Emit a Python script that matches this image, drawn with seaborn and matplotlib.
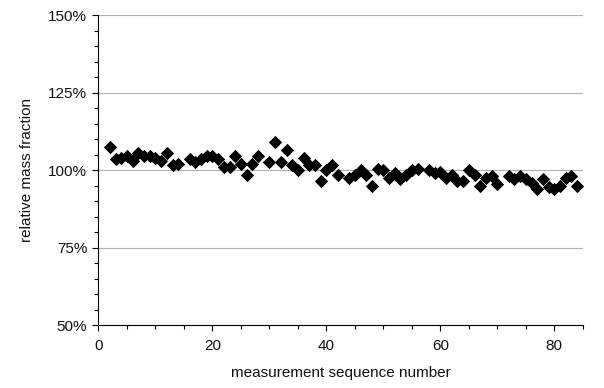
import matplotlib
matplotlib.use("Agg")
import matplotlib.pyplot as plt
import seaborn as sns
import pandas as pd
from matplotlib.ticker import MultipleLocator, FuncFormatter

seq = [2, 3, 4, 5, 6, 7, 8, 9, 10, 11, 12, 13, 14, 16, 17, 18, 19, 20, 21, 22,
       23, 24, 25, 26, 27, 28, 30, 31, 32, 33, 34, 35, 36, 37, 38, 39, 40, 41, 42,
       44, 45, 46, 47, 48, 49, 50, 51, 52, 53, 54, 55, 56, 58, 59, 60, 61, 62, 63,
       64, 65, 66, 67, 68, 69, 70, 72, 73, 74, 75, 76, 77, 78, 79, 80, 81, 82, 83, 84]
frac = [107.5, 103.5, 104, 104.5, 103, 105.5, 104.5, 104.5, 104, 103, 105.5, 101.5, 102,
        103.5, 102.5, 103.5, 104.5, 104.5, 103.5, 101, 101, 104.5, 102, 98.5, 102, 104.5,
        102.5, 109, 102.5, 106.5, 101.5, 100, 104, 101.5, 101.5, 96.5, 100, 101.5, 98.5,
        97.5, 98.5, 100, 98.5, 95, 100.5, 100, 97.5, 99, 97, 98.5, 100, 100.5,
        100, 99, 99.5, 97.5, 98.5, 96.5, 96.5, 100, 98.5, 95, 97.5, 98, 95.5,
        98, 97, 98, 97, 96, 94, 97, 94.5, 94, 95, 97.5, 98, 95]

df = pd.DataFrame({"seq": seq, "frac": frac})

sns.set_style("white")
plt.rcParams['font.family'] = ['Liberation Sans', 'DejaVu Sans']

fig = plt.figure(figsize=(6.04, 3.88), dpi=100)
ax = fig.add_axes([0.163, 0.162, 0.802, 0.799])

ax.yaxis.grid(True, color="#b0b0b0", linewidth=0.8)
ax.set_axisbelow(True)

sns.scatterplot(data=df, x="seq", y="frac", marker="D", s=46, color="black",
                edgecolor="black", linewidth=0, ax=ax, zorder=3)

ax.set_xlim(0, 85)
ax.set_ylim(50, 150)
ax.xaxis.set_major_locator(MultipleLocator(20))
ax.xaxis.set_minor_locator(MultipleLocator(5))
ax.yaxis.set_major_locator(MultipleLocator(25))
ax.yaxis.set_minor_locator(MultipleLocator(5))
ax.yaxis.set_major_formatter(FuncFormatter(lambda v, p: f"{v:.0f}%"))

for side in ["top", "right"]:
    ax.spines[side].set_visible(False)
for side in ["left", "bottom"]:
    ax.spines[side].set_color("black")
    ax.spines[side].set_linewidth(0.8)

ax.tick_params(axis="both", which="major", direction="out", length=4, width=0.8,
               color="black", labelsize=11, labelcolor="#111111")
ax.tick_params(axis="x", which="major", pad=6)
ax.tick_params(axis="y", which="major", pad=4)
ax.tick_params(axis="both", which="minor", direction="out", length=3, width=0.8,
               color="black")
ax.tick_params(axis="x", which="both", bottom=True)
ax.tick_params(axis="y", which="both", left=True)

ax.set_xlabel("measurement sequence number", fontsize=11, labelpad=9, color="#111111")
ax.set_ylabel("relative mass fraction", fontsize=11, labelpad=10, color="#111111")

fig.savefig("out.png", dpi=100)
